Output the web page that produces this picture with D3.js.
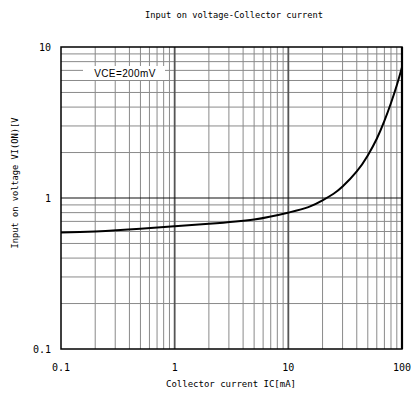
<!DOCTYPE html>
<html><head><meta charset="utf-8">
<script src="https://cdn.jsdelivr.net/npm/d3@7"></script>
<style>body{margin:0;background:#fff}svg{display:block}</style>
</head><body>
<script>
const title = "Input on voltage-Collector current";
const xTitle = "Collector current  IC[mA]";
const yTitle = "Input on voltage VI(ON)[V";
const note = "VCE=200mV";
const xTicks = [0.1, 1, 10, 100];
const yTicks = [0.1, 1, 10];
const xTickLabels = ["0.1", "1", "10", "100"];
const yTickLabels = ["0.1", "1", "10"];
const ic = [0.1, 0.2, 0.5, 1, 2, 5, 10, 15, 20, 25, 30, 40, 50, 60, 70, 80, 90, 100];
const vin = [0.59, 0.60, 0.625, 0.65, 0.675, 0.72, 0.80, 0.87, 0.965, 1.067, 1.19, 1.50, 1.915, 2.47, 3.24, 4.26, 5.58, 7.35];

const W = 411, H = 393;
const m = {l: 61, r: 9, t: 47, b: 44};
const svg = d3.select("body").append("svg").attr("width", W).attr("height", H);
const x = d3.scaleLog().domain([0.1, 100]).range([m.l, W - m.r]);
const y = d3.scaleLog().domain([0.1, 10]).range([H - m.b, m.t]);

const minorX = [], minorY = [];
[0.1, 1, 10].forEach(d => { for (let k = 2; k <= 9; k++) minorX.push(d * k); });
[0.1, 1].forEach(d => { for (let k = 2; k <= 9; k++) minorY.push(d * k); });

const g = svg.append("g");
g.selectAll(".mx").data(minorX).join("line")
  .attr("x1", d => x(d)).attr("x2", d => x(d)).attr("y1", m.t).attr("y2", H - m.b)
  .attr("stroke", "#8a8a8a").attr("stroke-width", 1);
g.selectAll(".my").data(minorY).join("line")
  .attr("y1", d => y(d)).attr("y2", d => y(d)).attr("x1", m.l).attr("x2", W - m.r)
  .attr("stroke", "#8a8a8a").attr("stroke-width", 1);
g.selectAll(".Mx").data([1, 10]).join("line")
  .attr("x1", d => x(d)).attr("x2", d => x(d)).attr("y1", m.t).attr("y2", H - m.b)
  .attr("stroke", "#555").attr("stroke-width", 1.8);
g.selectAll(".My").data([1]).join("line")
  .attr("y1", d => y(d)).attr("y2", d => y(d)).attr("x1", m.l).attr("x2", W - m.r)
  .attr("stroke", "#111").attr("stroke-width", 1.2);

// note box
svg.append("rect").attr("x", 83).attr("y", 66).attr("width", 82).attr("height", 14).attr("fill", "#fff");
svg.append("text").attr("x", 125).attr("y", 77).attr("text-anchor", "middle")
  .attr("font-family", "Liberation Sans, Arial, sans-serif").attr("font-size", 10)
  .attr("letter-spacing", 0.4).text(note);

// frame
svg.append("rect").attr("x", m.l).attr("y", m.t).attr("width", W - m.r - m.l).attr("height", H - m.b - m.t)
  .attr("fill", "none").attr("stroke", "#000").attr("stroke-width", 1.5);
svg.append("line").attr("x1", W - m.r).attr("x2", W - m.r).attr("y1", m.t).attr("y2", H - m.b)
  .attr("stroke", "#000").attr("stroke-width", 2.2);

// curve
const line = d3.line().x(d => x(d[0])).y(d => y(d[1])).curve(d3.curveNatural);
svg.append("path").datum(ic.map((d, i) => [d, vin[i]])).attr("d", line)
  .attr("fill", "none").attr("stroke", "#000").attr("stroke-width", 2);

const font = "DejaVu Sans Mono, monospace";
svg.append("text").attr("x", 234).attr("y", 18).attr("text-anchor", "middle")
  .attr("font-family", font).attr("font-size", 8.7).text(title);
svg.selectAll(".xt").data(xTicks).join("text")
  .attr("x", d => x(d)).attr("y", 371).attr("text-anchor", "middle")
  .attr("font-family", font).attr("font-size", 10).text((d, i) => xTickLabels[i]);
svg.selectAll(".yt").data(yTicks).join("text")
  .attr("x", 51).attr("y", d => y(d) + 4).attr("text-anchor", "end")
  .attr("font-family", font).attr("font-size", 10).text((d, i) => yTickLabels[i]);
svg.append("text").attr("x", 231).attr("y", 387).attr("text-anchor", "middle")
  .attr("font-family", font).attr("font-size", 9).text(xTitle);
svg.append("text").attr("transform", "translate(18,183) rotate(-90)").attr("text-anchor", "middle")
  .attr("font-family", font).attr("font-size", 8.7).text(yTitle);
</script>
</body></html>
